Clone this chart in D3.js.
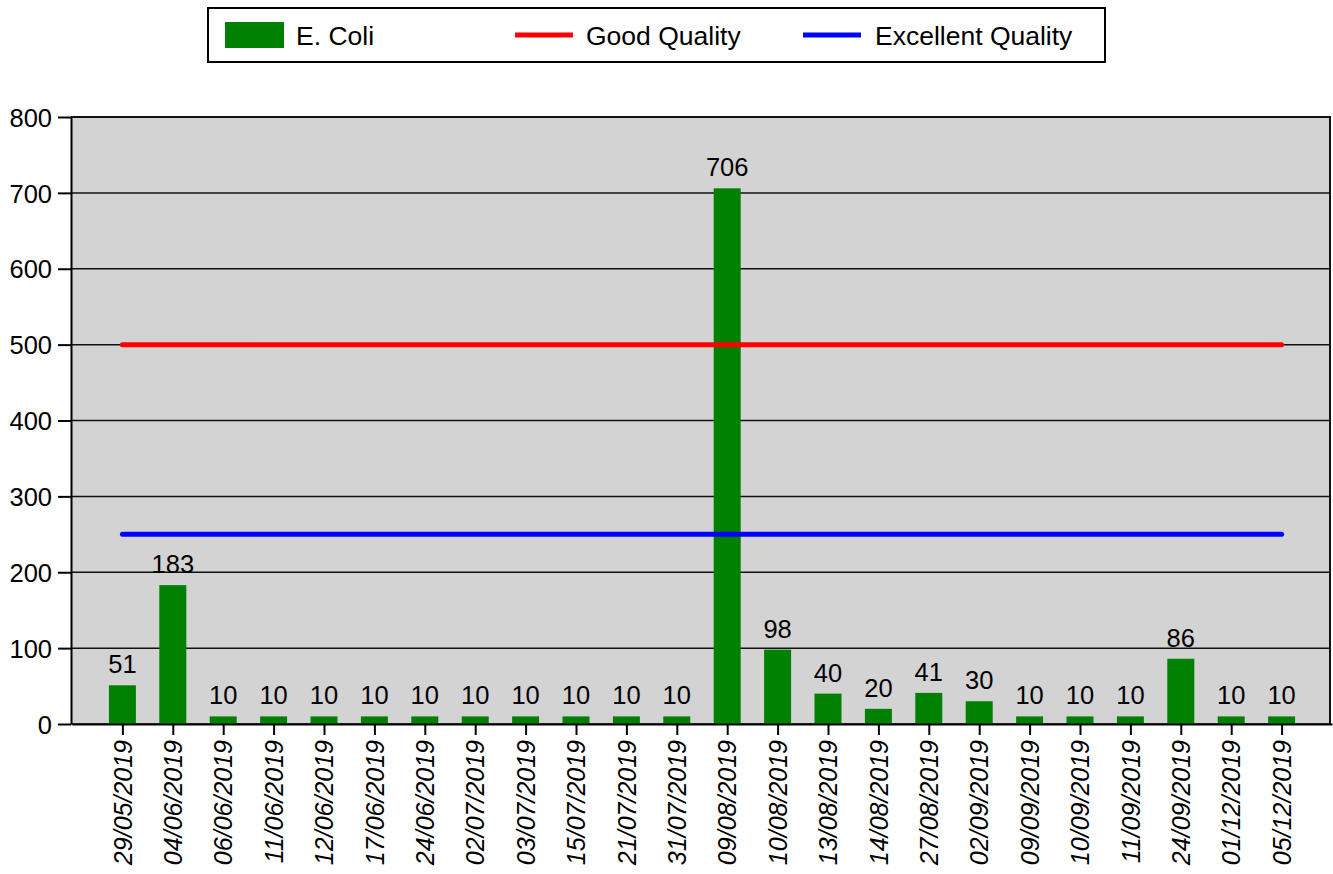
<!DOCTYPE html>
<html>
<head>
<meta charset="utf-8">
<script src="https://cdn.jsdelivr.net/npm/d3@7"></script>
<style>
  body { margin: 0; background: #fff; }
  text { font-family: "Liberation Sans", Arial, sans-serif; fill: #000; }
</style>
</head>
<body>
<svg width="1333" height="874"></svg>
<script>
// data
const dates = ["29/05/2019", "04/06/2019", "06/06/2019", "11/06/2019", "12/06/2019", "17/06/2019",
  "24/06/2019", "02/07/2019", "03/07/2019", "15/07/2019", "21/07/2019", "31/07/2019",
  "09/08/2019", "10/08/2019", "13/08/2019", "14/08/2019", "27/08/2019", "02/09/2019",
  "09/09/2019", "10/09/2019", "11/09/2019", "24/09/2019", "01/12/2019", "05/12/2019"];
const ecoli = [51, 183, 10, 10, 10, 10, 10, 10, 10, 10, 10, 10, 706, 98, 40, 20, 41, 30, 10, 10, 10, 86, 10, 10];
const goodQuality = 500;
const excellentQuality = 250;
const yTicks = [0, 100, 200, 300, 400, 500, 600, 700, 800];

const svg = d3.select("svg");
const plotL = 71, plotR = 1330, plotT = 117, plotB = 724;

const x = d3.scalePoint()
    .domain(dates)
    .range([plotL + 1, plotR + 2])
    .padding(1);
const y = d3.scaleLinear()
    .domain([0, 800])
    .range([plotB, plotT]);
const barW = 27;

// Hintergrund
svg.append("rect")
    .attr("x", plotL).attr("y", plotT)
    .attr("width", plotR - plotL).attr("height", plotB - plotT)
    .attr("fill", "#d3d3d3");

// Gitterlinien
svg.append("g").selectAll("line")
    .data(yTicks)
    .join("line")
    .attr("x1", plotL).attr("x2", plotR)
    .attr("y1", d => y(d)).attr("y2", d => y(d))
    .attr("stroke", "#111")
    .attr("stroke-width", 1.5);

// Balken
svg.append("g").selectAll("rect")
    .data(ecoli)
    .join("rect")
    .attr("x", (d, i) => x(dates[i]) - barW / 2)
    .attr("y", d => y(d))
    .attr("width", barW)
    .attr("height", d => plotB - y(d))
    .attr("fill", "#008000");

// Werte über den Balken
svg.append("g").selectAll("text")
    .data(ecoli)
    .join("text")
    .attr("x", (d, i) => x(dates[i]))
    .attr("y", d => y(d) - 12)
    .attr("text-anchor", "middle")
    .style("font-size", "25.5px")
    .text(d => d);

// Grenzwerte
const first = x(dates[0]), last = x(dates[dates.length - 1]);
[[goodQuality, "#ff0000"], [excellentQuality, "#0000ff"]].forEach(([v, c]) => {
  svg.append("line")
      .attr("x1", first).attr("x2", last)
      .attr("y1", y(v)).attr("y2", y(v))
      .attr("stroke", c)
      .attr("stroke-width", 5)
      .attr("stroke-linecap", "round");
});

// Rahmen rechts/oben
svg.append("path")
    .attr("d", `M${plotL},${plotT}H${plotR}V${plotB}`)
    .attr("fill", "none")
    .attr("stroke", "#111")
    .attr("stroke-width", 2);

// y-Achse
const yAxis = svg.append("g")
    .attr("transform", `translate(${plotL},0)`)
    .call(d3.axisLeft(y).tickValues(yTicks).tickSize(13).tickPadding(6).tickSizeOuter(0));
yAxis.select(".domain").attr("stroke", "#000").attr("stroke-width", 2);
yAxis.selectAll(".tick line").attr("stroke", "#000").attr("stroke-width", 2);
yAxis.selectAll("text").style("font-size", "25.5px").attr("font-family", null).attr("dy", "0.36em");

// x-Achse
const xAxis = svg.append("g")
    .attr("transform", `translate(0,${plotB})`)
    .call(d3.axisBottom(x).tickSize(11).tickSizeOuter(0));
xAxis.select(".domain").attr("stroke", "#000").attr("stroke-width", 2);
xAxis.selectAll(".tick line").attr("stroke", "#000").attr("stroke-width", 2);
xAxis.selectAll("text")
    .attr("font-family", null)
    .style("font-size", "25px")
    .style("font-style", "italic")
    .attr("text-anchor", "end")
    .attr("transform", "rotate(-90)")
    .attr("x", -16)
    .attr("y", 0)
    .attr("dy", "0.35em");

// Legende
const legend = svg.append("g");
legend.append("rect")
    .attr("x", 208).attr("y", 8)
    .attr("width", 897).attr("height", 54)
    .attr("fill", "#fff")
    .attr("stroke", "#000")
    .attr("stroke-width", 2);
legend.append("rect")
    .attr("x", 225).attr("y", 22)
    .attr("width", 59).attr("height", 26)
    .attr("fill", "#008000");
legend.append("text").attr("x", 296).attr("y", 45).style("font-size", "26.5px").text("E. Coli");
legend.append("line")
    .attr("x1", 515).attr("x2", 573).attr("y1", 35).attr("y2", 35)
    .attr("stroke", "#ff0000").attr("stroke-width", 5);
legend.append("text").attr("x", 586).attr("y", 45).style("font-size", "26.5px").text("Good Quality");
legend.append("line")
    .attr("x1", 803).attr("x2", 861).attr("y1", 35).attr("y2", 35)
    .attr("stroke", "#0000ff").attr("stroke-width", 5);
legend.append("text").attr("x", 875).attr("y", 45).style("font-size", "26.5px").text("Excellent Quality");
</script>
</body>
</html>
